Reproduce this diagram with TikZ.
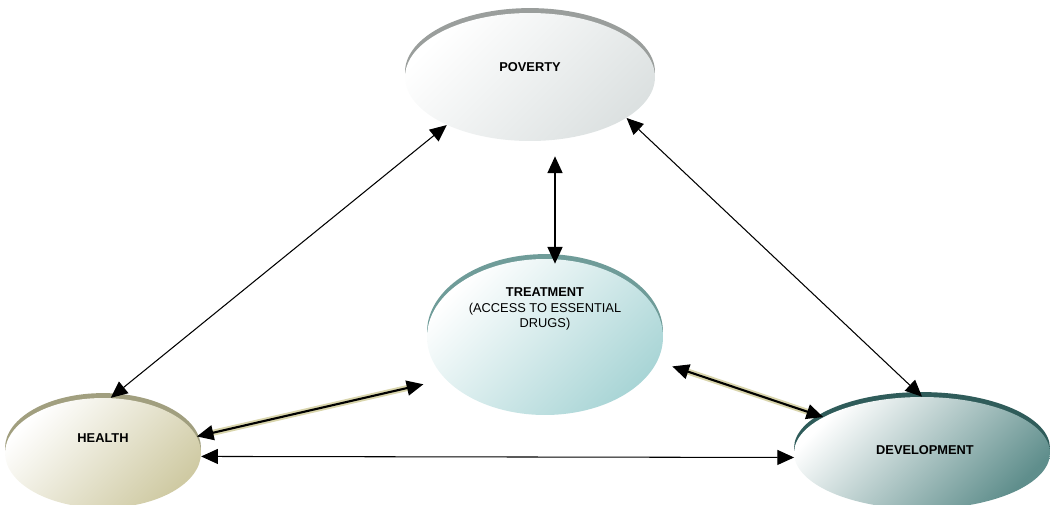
\documentclass[tikz,border=0pt]{standalone}
\usepackage{fontspec}
\setmainfont{Liberation Sans}
\usetikzlibrary{shapes.geometric,shadows,arrows.meta}
\definecolor{povrim}{HTML}{9A9E9C}
\definecolor{povfill}{HTML}{DCE1E1}
\definecolor{trerim}{HTML}{6F9C99}
\definecolor{trefill}{HTML}{A9D5D6}
\definecolor{hearim}{HTML}{A19F7F}
\definecolor{heafill}{HTML}{CFCAA3}
\definecolor{devrim}{HTML}{2F5C5A}
\definecolor{devfill}{HTML}{5F8E8C}
\definecolor{arrowbeige}{HTML}{D9D5AC}
\tikzset{
  blob/.style n args={2}{ellipse, inner sep=0pt,
    general shadow={fill=#1, shadow yshift=2.8pt},
    top color=white, middle color=white, bottom color=#2, shading angle=45},
  lbl/.style={font=\fontsize{7.3}{9}\selectfont, align=center},
  thin link/.style={{Triangle[length=9.5pt,width=8.5pt]}-{Triangle[length=9.5pt,width=8.5pt]}, line width=0.6pt},
  mid link/.style={{Triangle[length=9.5pt,width=8.5pt]}-{Triangle[length=9.5pt,width=8.5pt]}, line width=0.9pt},
  beige link/.style={{Triangle[length=9.5pt,width=8.5pt]}-{Triangle[length=9.5pt,width=8.5pt]}, line width=1.2pt,
    preaction={draw=arrowbeige, line width=3.4pt, -, shorten >=7pt, shorten <=7pt}}
}
\begin{document}
\begin{tikzpicture}[x=0.02cm,y=-0.02cm]
\useasboundingbox (0,0) rectangle (1050,504);
\node[blob={povrim}{povfill}, minimum width=5cm, minimum height=2.56cm] (pov) at (530,77) {};
\node[blob={trerim}{trefill}, minimum width=4.72cm, minimum height=3.12cm] (tre) at (545,337) {};
\node[blob={hearim}{heafill}, minimum width=3.92cm, minimum height=2.2cm] (hea) at (103,453) {};
\node[blob={devrim}{devfill}, minimum width=5.12cm, minimum height=2.24cm] (dev) at (922,453) {};
\node[lbl] (povtxt) at (530,67) {\bfseries POVERTY};
\node[lbl] (tretxt) at (545,309) {\bfseries TREATMENT\\(ACCESS TO ESSENTIAL\\DRUGS)};
\node[lbl] (heatxt) at (103,438) {\bfseries HEALTH};
\node[lbl] (devtxt) at (925,450) {\bfseries DEVELOPMENT};
\draw[thin link] (hea.82) -- (pov.210);
\draw[thin link] (pov.337) -- (dev.north);
\draw[thin link] (hea.358) -- (dev.182);
\draw[mid link] ([shift={(25,15)}]pov.south) -- ([shift={(10,5)}]tre.north);
\draw[beige link] (hea.10) -- ([shift={(-22,5)}]tre.203);
\draw[beige link] ([xshift=10]tre.345) -- (dev.160);
\end{tikzpicture}
\end{document}
